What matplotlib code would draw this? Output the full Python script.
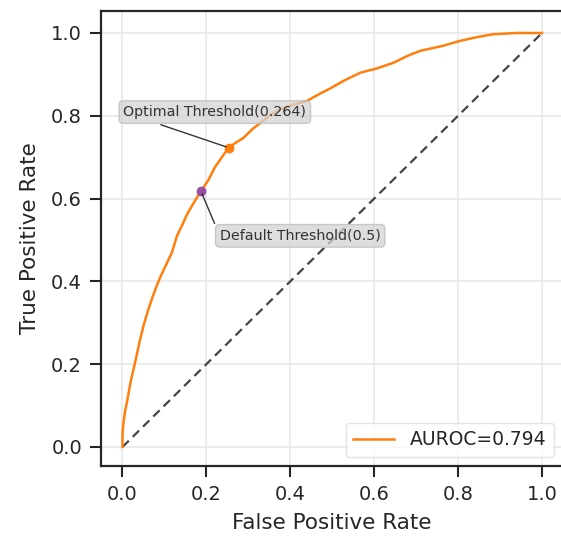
import matplotlib
matplotlib.use("Agg")
import matplotlib.pyplot as plt

fpr = [0.0, 0.0, 0.002, 0.006, 0.011, 0.02, 0.031, 0.041, 0.051, 0.061, 0.071, 0.08, 0.09,
       0.104, 0.118, 0.13, 0.142, 0.154, 0.17, 0.187, 0.205, 0.22, 0.237, 0.253, 0.27, 0.289,
       0.31, 0.329, 0.35, 0.376, 0.405, 0.44, 0.47, 0.495, 0.53, 0.567, 0.605, 0.646, 0.68,
       0.71, 0.76, 0.805, 0.845, 0.884, 0.94, 1.0]
tpr = [0.0, 0.03, 0.055, 0.085, 0.11, 0.16, 0.208, 0.255, 0.296, 0.33, 0.36, 0.385, 0.41,
       0.44, 0.47, 0.51, 0.535, 0.562, 0.59, 0.618, 0.645, 0.675, 0.70, 0.723, 0.735, 0.747,
       0.768, 0.783, 0.80, 0.815, 0.826, 0.836, 0.853, 0.866, 0.886, 0.904, 0.914, 0.928, 0.945,
       0.957, 0.968, 0.981, 0.99, 0.997, 1.0, 1.0]
auroc = 0.794
opt_point = (0.253, 0.723)
opt_label = "Optimal Threshold(0.264)"
def_point = (0.187, 0.618)
def_label = "Default Threshold(0.5)"

fig = plt.figure(figsize=(5.61, 5.37), dpi=100)
ax = fig.add_axes([0.1809, 0.1322, 0.8226, 0.848])

ax.grid(True, color="#e8e8e8", linewidth=1.2, zorder=0)
ax.set_axisbelow(True)
ax.plot([0, 1], [0, 1], linestyle=(0, (4, 2.5)), color="#444444", linewidth=1.6, zorder=2)
ax.plot(fpr, tpr, color="#ff7f0e", linewidth=1.8, label=f"AUROC={auroc}", zorder=3)
ax.plot(*opt_point, "o", color="#ff7f0e", markersize=6, zorder=4)
ax.plot(*def_point, "o", color="#984ea3", markersize=6, zorder=4)

bbox = dict(boxstyle="round,pad=0.3", fc="#d3d3d3", ec="#bbbbbb", alpha=0.75)
ax.annotate(opt_label, xy=opt_point, xytext=(0.002, 0.809), fontsize=10.3, color="#333333",
            bbox=bbox, va="center", ha="left",
            arrowprops=dict(arrowstyle="-", color="#333333", lw=1, relpos=(0, 0.5)), zorder=5)
ax.annotate(def_label, xy=def_point, xytext=(0.232, 0.51), fontsize=10.3, color="#333333",
            bbox=bbox, va="center", ha="left",
            arrowprops=dict(arrowstyle="-", color="#333333", lw=1, relpos=(0, 0.5)), zorder=5)

ax.set_xlim(-0.05, 1.05)
ax.set_ylim(-0.046, 1.054)
ticks = [0.0, 0.2, 0.4, 0.6, 0.8, 1.0]
ax.set_xticks(ticks)
ax.set_yticks(ticks)
ax.set_xticklabels([f"{t:.1f}" for t in ticks])
ax.set_yticklabels([f"{t:.1f}" for t in ticks])
ax.tick_params(axis="both", labelsize=14, length=8, width=1.5, colors="#262626", pad=6)
for s in ax.spines.values():
    s.set_linewidth(1.6)
    s.set_color("#262626")
ax.set_xlabel("False Positive Rate", fontsize=15.5, color="#262626", labelpad=6)
ax.set_ylabel("True Positive Rate", fontsize=15.5, color="#262626", labelpad=8)
leg = ax.legend(loc="lower right", fontsize=13.5, frameon=True, handlelength=2.2)
leg.get_frame().set_edgecolor("#dddddd")
for t in leg.get_texts():
    t.set_color("#262626")

fig.savefig("out.png", dpi=100)
